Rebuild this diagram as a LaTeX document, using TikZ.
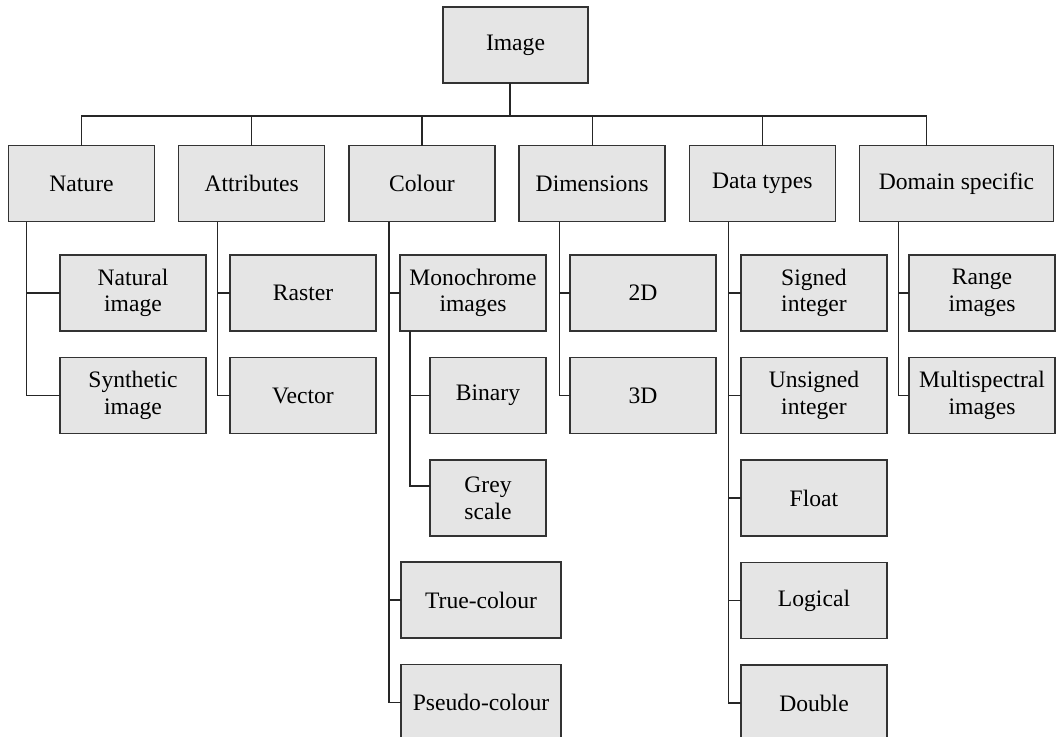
\documentclass[tikz,border=0pt]{standalone}
\usepackage{fontspec}
\setmainfont{Liberation Serif}
\usetikzlibrary{positioning}

\begin{document}
\begin{tikzpicture}[
    x=0.5pt, y=-0.5pt,
    box/.style={rectangle, draw=black!80, line width=0.7pt, fill=black!10, minimum width=73pt, minimum height=38pt, inner sep=2pt, outer sep=0pt, align=center, font=\fontsize{11.8}{13.3}\selectfont},
    widebox/.style={box, minimum width=80pt},
    narrowbox/.style={box, minimum width=58pt},
    link/.style={draw=black!85, line width=0.6pt}
]
\useasboundingbox (0,0) rectangle (1056,736);

% Root and first level
\node[box, minimum width=72.5pt] (img) at (515.5,45) {Image};
\node[box] (nat) at (81.5,183.5) {Nature};
\node[box, right=12.1pt of nat] (att) {Attributes};
\node[box, right=12.1pt of att] (col) {Colour};
\node[box, right=12.1pt of col] (dim) {Dimensions};
\node[box, right=12.1pt of dim] (dt) {Data types};
\node[box, right=12.1pt of dt, minimum width=97pt] (dom) {Domain specific};

% Second level
\node[box] (natimg) at (133,293) {Natural\\image};
\node[box, below=13.25pt of natimg] (syn) {Synthetic\\image};
\node[box] (ras) at (303,293) {Raster};
\node[box, below=13.25pt of ras] (vec) {Vector};
\node[box] (mono) at (473,293) {Monochrome\\images};
\node[narrowbox, below=13.25pt of mono.south east, anchor=north east] (bin) {Binary};
\node[narrowbox, below=13.25pt of bin] (grey) {Grey\\scale};
\node[widebox] (true) at (481,600) {True-colour};
\node[widebox, below=13.25pt of true] (pseudo) {Pseudo-colour};
\node[box] (d2) at (643,293) {2D};
\node[box, below=13.25pt of d2] (d3) {3D};
\node[box] (sint) at (814,293) {Signed\\integer};
\node[box, below=13.25pt of sint] (uint) {Unsigned\\integer};
\node[box, below=13.25pt of uint] (flt) {Float};
\node[box, below=13.25pt of flt] (lgc) {Logical};
\node[box, below=13.25pt of lgc] (dbl) {Double};
\node[box] (rng) at (982,293) {Range\\images};
\node[box, below=13.25pt of rng] (msp) {Multispectral\\images};

% Bus under the root
\coordinate (bus) at (0,116);
\coordinate (imgdrop) at ([xshift=33.5pt]img.south west);
\coordinate (domdrop) at ([xshift=33.5pt]dom.north west);
\draw[link] (imgdrop) -- (imgdrop |- bus);
\draw[link] (nat.north) |- (domdrop |- bus) -- (domdrop);
\foreach \n in {att,col,dim,dt}
    \draw[link] (\n.north) -- (\n.north |- bus);

% Trunks to the children
\foreach \c in {natimg,syn}
    \draw[link] ([xshift=9pt]nat.south west) |- (\c.west);
\foreach \c in {ras,vec}
    \draw[link] ([xshift=19.5pt]att.south west) |- (\c.west);
\foreach \c in {mono,true,pseudo}
    \draw[link] ([xshift=20pt]col.south west) |- (\c.west);
\draw[link] ([xshift=5pt]mono.south west) |- (bin.west);
\draw[link] ([xshift=5pt]mono.south west) |- ([yshift=6pt]grey.west);
\foreach \c in {d2,d3}
    \draw[link] ([xshift=20pt]dim.south west) |- (\c.west);
\foreach \c in {sint,uint,flt,lgc,dbl}
    \draw[link] ([xshift=19.5pt]dt.south west) |- (\c.west);
\foreach \c in {rng,msp}
    \draw[link] ([xshift=19.5pt]dom.south west) |- (\c.west);

\end{tikzpicture}
\end{document}
